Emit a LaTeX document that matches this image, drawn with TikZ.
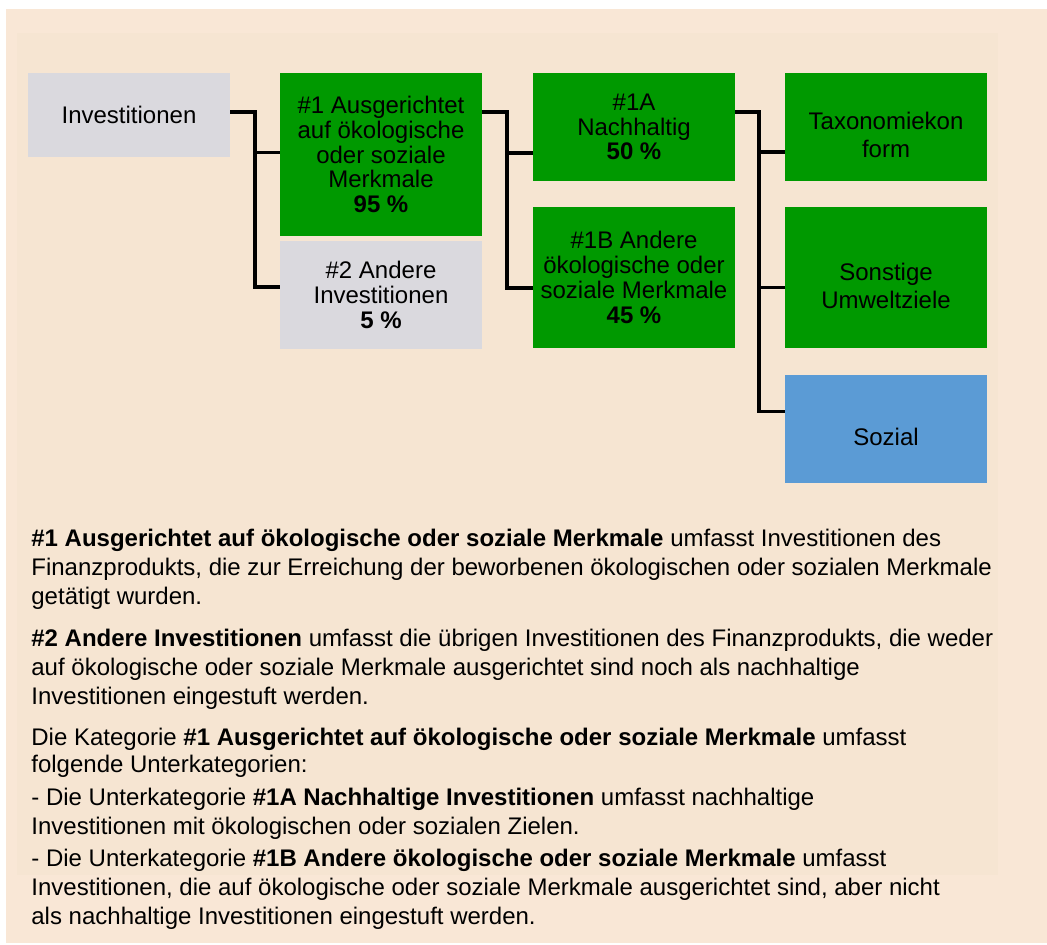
\documentclass[tikz,border=0pt]{standalone}
\usepackage{fontspec}
\setmainfont{Liberation Sans}
\usetikzlibrary{positioning}
\definecolor{boxgreen}{HTML}{009900}
\definecolor{boxgray}{HTML}{DAD9DE}
\definecolor{boxblue}{HTML}{5B9BD5}
\definecolor{bgouter}{HTML}{F9E7D6}
\definecolor{bginner}{HTML}{F6E5D2}

\begin{document}
\begin{tikzpicture}[x=0.5pt, y=-0.5pt,
  box/.style={minimum width=101pt, inner sep=0pt, align=center, font=\fontsize{12pt}{12.4pt}\selectfont},
  greenbox/.style={box, fill=boxgreen},
  graybox/.style={box, fill=boxgray},
  bluebox/.style={box, fill=boxblue},
  boxtext/.style={inner sep=0pt, align=center, font=\fontsize{12pt}{14pt}\selectfont},
  link/.style={line width=1.8pt, black},
  note/.style={inner sep=0pt, anchor=base west, align=left, font=\fontsize{12pt}{14.5pt}\selectfont}]
  \useasboundingbox (0,0) rectangle (1047,945);
  \fill[white] (0,0) rectangle (1047,945);
  \fill[bgouter] (6,9) rectangle (1047,943);
  \fill[bginner] (17,33) rectangle (998,875);

  \node[graybox, minimum height=42pt] (inv) at (129,115) {Investitionen};
  \node[greenbox, minimum height=81.5pt] (one) at (381,154.5) {\#1 Ausgerichtet\\auf ökologische\\oder soziale\\Merkmale\\\textbf{95 \%}};
  \node[graybox, minimum height=54pt] (two) at (381,295) {\#2 Andere\\Investitionen\\\textbf{5 \%}};
  \node[greenbox, minimum height=54pt] (oneA) at (634,127) {\#1A\\Nachhaltig\\\textbf{50 \%}};
  \node[greenbox, minimum height=70.5pt] (oneB) at (634,277.5) {\#1B Andere\\ökologische oder\\soziale Merkmale\\\textbf{45 \%}};
  \node[greenbox, minimum height=54pt] (tax) at (886,127) {};
  \node[greenbox, minimum height=70.5pt] (son) at (886,277.5) {};
  \node[bluebox, minimum height=54pt] (soz) at (886,429) {};
  \node[boxtext] (taxtext) at ([yshift=-4pt]tax.center) {Taxonomiekon\\form};
  \node[boxtext] (sontext) at ([yshift=-4pt]son.center) {Sonstige\\Umweltziele};
  \node[boxtext] (soztext) at ([yshift=-4pt]soz.center) {Sozial};

  \coordinate (ja) at (255,112);
  \draw[link] (inv.east |- ja) -- (ja) |- ([yshift=4pt]two.west);
  \draw[link] ([yshift=1pt]one.west) -| (ja);
  \coordinate (jb) at (507,112);
  \draw[link] (one.east |- jb) -- (jb) |- ([yshift=-5.25pt]oneB.west);
  \draw[link] ([yshift=-13pt]oneA.west) -| (jb);
  \coordinate (jc) at (759,112);
  \draw[link] (oneA.east |- jc) -- (jc) |- ([yshift=8.65pt]soz.west);
  \draw[link] ([yshift=-12.5pt]tax.west) -| (jc);
  \draw[link] ([yshift=-5pt]son.west) -| (jc);

  \node[note] (para1) at (31,604) {\textbf{\#1 Ausgerichtet auf ökologische oder soziale Merkmale} umfasst Investitionen des\\Finanzprodukts, die zur Erreichung der beworbenen ökologischen oder sozialen Merkmale\\getätigt wurden.};
  \node[note] (para2) at (31,704) {\textbf{\#2 Andere Investitionen} umfasst die übrigen Investitionen des Finanzprodukts, die weder\\auf ökologische oder soziale Merkmale ausgerichtet sind noch als nachhaltige\\Investitionen eingestuft werden.};
  \node[note] (para3) at (31,924) {Die Kategorie \textbf{\#1 Ausgerichtet auf ökologische oder soziale Merkmale} umfasst\\[-1pt]folgende Unterkategorien:\\[2pt]- Die Unterkategorie \textbf{\#1A Nachhaltige Investitionen} umfasst nachhaltige\\Investitionen mit ökologischen oder sozialen Zielen.\\[1.5pt]- Die Unterkategorie \textbf{\#1B Andere ökologische oder soziale Merkmale} umfasst\\Investitionen, die auf ökologische oder soziale Merkmale ausgerichtet sind, aber nicht\\als nachhaltige Investitionen eingestuft werden.};
\end{tikzpicture}
\end{document}
